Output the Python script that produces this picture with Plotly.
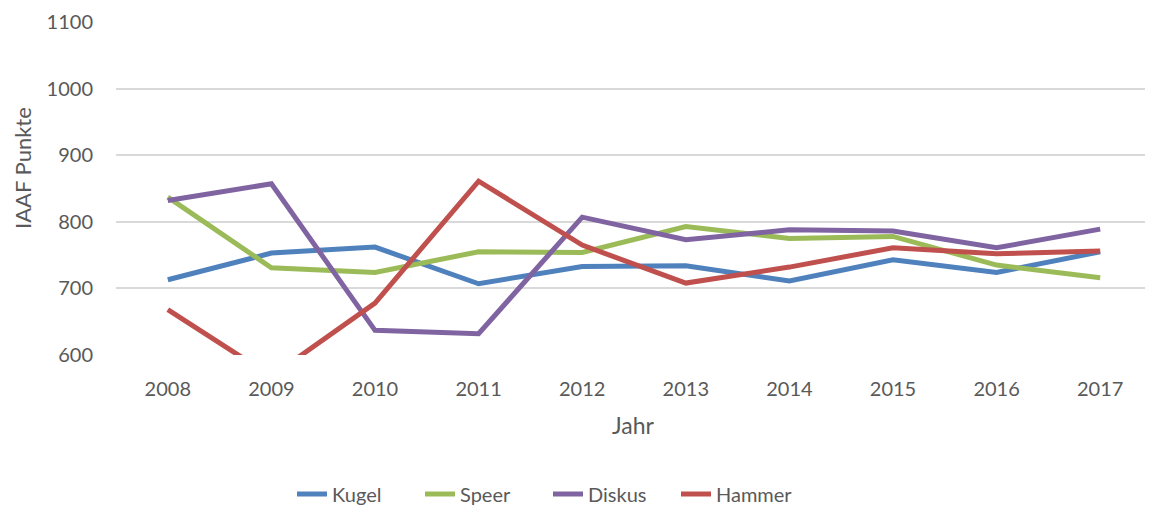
import plotly.graph_objects as go

years = ["2008", "2009", "2010", "2011", "2012", "2013", "2014", "2015", "2016", "2017"]
kugel = [713, 753, 762, 707, 733, 734, 711, 743, 724, 755]
speer = [837, 731, 724, 755, 754, 793, 775, 778, 735, 716]
diskus = [832, 857, 637, 632, 807, 773, 788, 786, 761, 789]
hammer = [668, 568, 678, 861, 765, 708, 732, 761, 752, 756]

series = [
    ("Kugel", kugel, "#4F81BD"),
    ("Speer", speer, "#9BBB59"),
    ("Diskus", diskus, "#8064A2"),
    ("Hammer", hammer, "#C0504D"),
]

FONT = "Lato, Open Sans, sans-serif"
GREY = "#595959"
OFF = 8  # page body margin

fig = go.Figure()
for name, vals, col in series:
    fig.add_trace(go.Scatter(
        x=years, y=vals, name=name, mode="lines",
        line=dict(color=col, width=5),
    ))

W, H = 1153 - OFF, 511 - OFF
L, T = 116 - OFF, 22 - OFF
R = 1
pw = W - L - R
ph = 355 - 22
B = H - T - ph


def py(page_y):
    return (355 - page_y) / ph


def px(page_x):
    return (page_x - 116) / pw


fig.update_layout(
    width=W, height=H,
    margin=dict(l=L, r=R, t=T, b=B, autoexpand=False),
    plot_bgcolor="white", paper_bgcolor="white",
    font=dict(family=FONT, size=20, color=GREY),
    showlegend=True,
    legend=dict(
        orientation="h", xanchor="center", yanchor="middle",
        x=px(548), y=py(494),
        font=dict(size=20, color=GREY),
        tracegroupgap=0,
        entrywidth=83, entrywidthmode="pixels",
    ),
    xaxis=dict(
        type="category", range=[-0.5, 9.5],
        showgrid=False, zeroline=False, showline=False,
        ticks="outside", ticklen=16, tickcolor="rgba(0,0,0,0)",
        tickfont=dict(size=20, color=GREY),
    ),
    yaxis=dict(
        range=[600, 1100], dtick=100,
        showgrid=True, gridcolor="#D9D9D9", gridwidth=1.5,
        zeroline=False, showline=False,
        ticks="outside", ticklen=18, tickcolor="rgba(0,0,0,0)",
        tickfont=dict(size=20, color=GREY),
    ),
    annotations=[
        dict(text="IAAF Punkte", xref="paper", yref="paper",
             x=px(22), y=py(168), textangle=-90,
             showarrow=False, xanchor="center", yanchor="middle",
             font=dict(size=22, color=GREY)),
        dict(text="Jahr", xref="paper", yref="paper",
             x=px(633), y=py(425),
             showarrow=False, xanchor="center", yanchor="middle",
             font=dict(size=23, color=GREY)),
    ],
)

fig.write_html("out.html")
